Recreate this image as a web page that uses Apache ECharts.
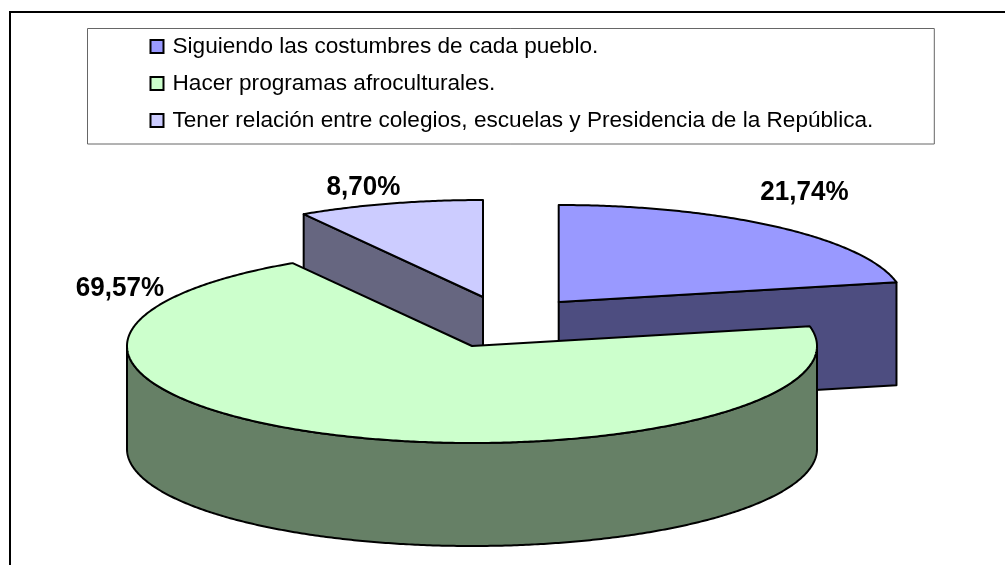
<!DOCTYPE html>
<html>
<head>
<meta charset="utf-8">
<style>
  html, body { margin: 0; padding: 0; background: #fff; }
  #chart { width: 1005px; height: 565px; }
</style>
<script src="https://cdn.jsdelivr.net/npm/echarts@6/dist/echarts.min.js"></script>
</head>
<body>
<div id="chart"></div>
<script>
  // data
  const categories = [
    'Siguiendo las costumbres de cada pueblo.',
    'Hacer programas afroculturales.',
    'Tener relación entre colegios, escuelas y Presidencia de la República.'
  ]
  const percents = [21.74, 69.57, 8.70]
  const topColors = ['#9999FF', '#CCFFCC', '#CCCCFF']
  const sideColors = ['#4D4D80', '#668066', '#666680']

  // pie layout, the pie is a squashed ellipse with a fixed depth
  const pieCenter = [472, 346]
  const radiusX = 345
  const radiusY = 97
  const pieDepth = 103
  const explodeOffsets = [[86.7, -44], [0, 0], [11, -49]]
  const labelCenters = [[804.5, 192], [120, 288], [363.5, 187]]
  const drawOrder = [2, 3, 1] // lavender at the back, green in front

  const total = percents.reduce((a, b) => a + b, 0)
  const FONT = '"Liberation Sans", Arial, sans-serif'
  const EDGE = { stroke: '#000', lineWidth: 2, lineJoin: 'round' }

  // start angle of each slice, clockwise from 12 o'clock, in degrees
  function startAngle(index){
    let sum = 0
    for(let i = 0; i < index; i++){
      sum += percents[i]
    }
    return sum / total * 360
  }

  function rimPoint(cx, cy, deg){
    const rad = (deg - 90) * Math.PI / 180
    return [cx + radiusX * Math.cos(rad), cy + radiusY * Math.sin(rad)]
  }

  function arcPoints(cx, cy, from, to){
    const points = []
    const steps = Math.max(2, Math.ceil(Math.abs(to - from) * 2))
    for(let i = 0; i <= steps; i++){
      points.push(rimPoint(cx, cy, from + (to - from) * i / steps))
    }
    return points
  }

  function polygon(points, fill){
    return {
      type: 'polygon',
      shape: { points: points },
      style: Object.assign({ fill: fill }, EDGE)
    }
  }

  function cutFace(cx, cy, deg, fill){
    const pt = rimPoint(cx, cy, deg)
    return polygon([[cx, cy], pt, [pt[0], pt[1] + pieDepth], [cx, cy + pieDepth]], fill)
  }

  function renderSlice(index, value){
    const from = startAngle(index)
    const to = from + value / total * 360
    const cx = pieCenter[0] + explodeOffsets[index][0]
    const cy = pieCenter[1] + explodeOffsets[index][1]
    const children = []

    // cut faces, only the ones turned towards the viewer show
    if(to > 0 && to < 180){
      children.push(cutFace(cx, cy, to, sideColors[index]))
    }
    if(from > 180 && from < 360){
      children.push(cutFace(cx, cy, from, sideColors[index]))
    }

    // outer wall, the front half between 3 and 9 o'clock
    const wallFrom = Math.max(from, 90)
    const wallTo = Math.min(to, 270)
    if(wallTo > wallFrom){
      const upper = arcPoints(cx, cy, wallFrom, wallTo)
      const lower = arcPoints(cx, cy + pieDepth, wallTo, wallFrom)
      children.push(polygon(upper.concat(lower), sideColors[index]))
    }

    // top face
    children.push(polygon([[cx, cy]].concat(arcPoints(cx, cy, from, to)), topColors[index]))

    // the original labels are tall and narrow
    children.push({
      type: 'text',
      x: labelCenters[index][0],
      y: labelCenters[index][1],
      scaleX: 0.93,
      style: {
        text: value.toFixed(2).replace('.', ',') + '%',
        x: 0,
        y: 0,
        align: 'center',
        verticalAlign: 'middle',
        fill: '#000',
        font: 'bold 28px ' + FONT
      }
    })
    return { type: 'group', children: children }
  }

  const chart = echarts.init(document.getElementById('chart'))
  chart.setOption({
    animation: false,
    backgroundColor: '#fff',
    graphic: [{
      type: 'rect',
      silent: true,
      shape: { x: 10, y: 12, width: 1200, height: 800 },
      style: { fill: 'transparent', stroke: '#000', lineWidth: 2 }
    }],
    legend: {
      orient: 'vertical',
      left: 87.5,
      top: 28.5,
      padding: [4.5, 61, 10, 62],
      borderColor: '#666',
      borderWidth: 1,
      itemWidth: 13,
      itemHeight: 13,
      itemGap: 10,
      icon: 'rect',
      selectedMode: false,
      data: categories,
      itemStyle: { borderColor: '#000', borderWidth: 2 },
      textStyle: {
        color: '#000',
        fontFamily: FONT,
        fontSize: 22.6,
        padding: [0, 0, 2, 4],
        lineHeight: 25
      }
    },
    series: categories.map((name, index) => ({
      type: 'custom',
      name: name,
      coordinateSystem: 'none',
      z: drawOrder[index],
      silent: true,
      itemStyle: { color: topColors[index] },
      data: [[percents[index]]],
      renderItem(params, api){
        return renderSlice(index, api.value(0))
      }
    }))
  })
</script>
</body>
</html>
